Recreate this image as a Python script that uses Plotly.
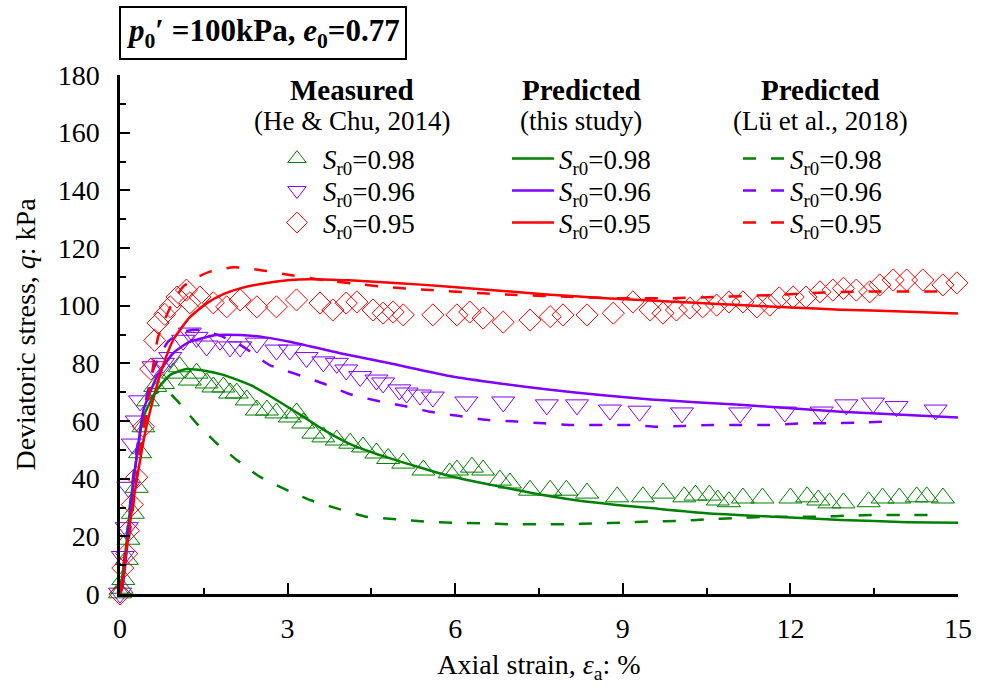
import plotly.graph_objects as go

# ---------------- data ----------------
# Measured (He & Chu, 2014)
meas98_x = [0.0, 0.03, 0.06, 0.12, 0.15, 0.23, 0.30, 0.36, 0.42, 0.50, 0.63, 0.77, 0.95, 1.07, 1.25, 1.37,
            1.55, 1.67, 1.85, 1.97, 2.09, 2.27, 2.45, 2.63, 2.80, 3.04, 3.16, 3.28, 3.46, 3.64, 3.88, 4.12,
            4.35, 4.59, 4.80, 5.07, 5.43, 5.90, 6.03, 6.30, 6.50, 6.80, 6.98, 7.34, 7.70, 7.99, 8.36, 8.90,
            9.36, 9.72, 10.1, 10.3, 10.55, 10.7, 10.9, 11.15, 11.5, 12.0, 12.3, 12.5, 12.7, 12.95, 13.4,
            13.65, 13.95, 14.26, 14.44, 14.73, 15.03]
meas98_y = [0.4, 2.0, 5.0, 12.0, 19.0, 28.0, 37.0, 49.0, 58.0, 67.0, 72.0, 73.0, 76.6, 78.8, 74.2, 76.6,
            73.2, 71.8, 71.8, 69.7, 69.7, 67.3, 63.8, 63.8, 62.8, 61.4, 62.8, 59.3, 55.8, 54.5, 53.4, 52.3,
            51.0, 48.9, 47.0, 45.4, 43.0, 42.0, 43.0, 44.0, 43.0, 39.5, 38.5, 36.0, 36.0, 36.0, 35.0, 33.7,
            33.7, 35.0, 33.7, 34.3, 34.3, 32.6, 32.0, 33.3, 33.3, 33.3, 33.7, 32.6, 31.6, 31.6, 32.0,
            33.3, 33.3, 33.7, 33.7, 33.3, 33.3]

meas96_x = [0.0, 0.05, 0.12, 0.15, 0.23, 0.30, 0.36, 0.60, 0.77, 0.90, 1.13, 1.25, 1.37, 1.55, 1.79, 1.97,
            2.15, 2.45, 2.80, 3.04, 3.34, 3.64, 3.88, 4.05, 4.30, 4.59, 4.71, 5.00, 5.13, 5.37, 5.60, 6.20,
            6.86, 7.64, 8.18, 8.77, 9.30, 10.06, 11.1, 11.9, 12.56, 13.0, 13.48, 13.9, 14.6, 15.3]
meas96_y = [0.3, 13.0, 23.0, 37.0, 52.0, 60.0, 67.0, 78.8, 80.0, 82.0, 88.0, 90.5, 89.0, 86.0, 88.0, 85.7,
            85.7, 87.0, 84.6, 84.6, 82.0, 80.5, 80.0, 77.7, 75.4, 74.2, 73.2, 70.8, 69.7, 69.0, 68.3, 66.6,
            66.6, 65.6, 65.6, 63.8, 63.4, 62.8, 62.8, 63.1, 63.1, 65.6, 66.2, 65.0, 63.8, 65.6]

meas95_x = [0.0, 0.05, 0.12, 0.15, 0.22, 0.30, 0.42, 0.55, 0.62, 0.68, 0.80, 0.90, 1.02, 1.19, 1.25, 1.43,
            1.67, 1.91, 2.15, 2.45, 2.80, 3.16, 3.58, 3.81, 4.05, 4.24, 4.53, 4.71, 4.89, 5.07, 5.60, 6.03,
            6.26, 6.50, 6.86, 7.34, 7.70, 7.93, 8.36, 8.83, 9.18, 9.49, 9.72, 9.96, 10.2, 10.43, 10.68,
            10.9, 11.15, 11.4, 11.63, 11.8, 12.05, 12.28, 12.53, 12.76, 12.95, 13.18, 13.42, 13.6, 13.84,
            14.08, 14.37, 14.73, 14.98, 15.27]
meas95_y = [0.0, 9.0, 14.0, 22.0, 31.0, 40.5, 58.0, 78.0, 88.0, 94.0, 97.0, 99.6, 103.0, 105.4, 101.0, 103.0,
            101.0, 99.6, 102.0, 99.6, 99.6, 102.0, 100.9, 98.5, 100.9, 101.3, 98.5, 97.4, 97.8, 96.8, 96.8, 96.8,
            97.8, 95.7, 94.3, 95.0, 96.2, 96.8, 96.8, 97.4, 101.3, 98.5, 97.4, 98.5, 99.2, 99.6, 100.2,
            101.3, 101.3, 99.6, 100.2, 102.7, 103.0, 103.0, 104.8, 105.4, 106.0, 105.4, 104.8, 107.2, 108.9,
            108.9, 108.9, 107.2, 107.9, 108.9]

# Predicted (this study)
pred98_x = [0, 0.1, 0.2, 0.3, 0.42, 0.66, 0.9, 1.19, 1.49, 1.85, 2.33, 2.8, 3.28, 3.64, 4.12, 4.71, 5.31,
            5.9, 6.5, 7.1, 7.7, 8.29, 8.89, 9.49, 10.5, 11.7, 12.9, 14.1, 15.0]
pred98_y = [0, 15, 33, 48, 61.5, 70.8, 76, 78.0, 77.5, 76, 72.5, 67.3, 61.5, 57, 52.0, 47.8, 44.2,
            40.9, 38.4, 36.1, 33.9, 32.2, 30.9, 29.8, 28, 26.8, 25.7, 24.9, 24.7]

pred96_x = [0, 0.05, 0.15, 0.23, 0.33, 0.42, 0.66, 0.95, 1.25, 1.73, 2.15, 2.6, 3.04, 3.94, 4.83, 5.9,
            6.8, 7.7, 8.6, 9.5, 10.3, 11.1, 12.0, 12.9, 14.0, 15.0]
pred96_y = [0, 3, 21, 37, 52, 63.8, 75.4, 83.5, 87.5, 89.8, 89.8, 89, 87.5, 83.5, 80.0, 75.6,
            73, 70.8, 69, 67.5, 66.5, 65.6, 64.4, 63.2, 62.2, 61.2]

pred95_x = [0, 0.03, 0.15, 0.30, 0.45, 0.60, 0.75, 0.95, 1.25, 1.55, 1.85, 2.15, 2.6, 3.0, 3.4, 4.1, 5.0,
            5.9, 6.8, 7.7, 8.6, 9.5, 10.3, 11.1, 12.0, 12.9, 14.0, 15.0]
pred95_y = [0, 1.5, 21, 39.5, 56, 68, 78, 88, 96, 100.8, 104, 106, 107.8, 108.8, 109.2, 108.8, 107.8,
            106.6, 105.2, 103.8, 102.7, 101.8, 101.0, 100.2, 99.4, 98.6, 98.0, 97.3]

# Predicted (Lü et al., 2018)
lu98_x = [0, 0.1, 0.2, 0.3, 0.45, 0.6, 0.8, 1.01, 1.37, 1.73, 2.09, 2.5, 2.98, 3.4, 3.88, 4.41, 4.95,
          5.49, 5.97, 6.5, 7.0, 7.5, 8.0, 8.5, 9.0, 9.5, 10.0, 10.5, 11.0, 11.6, 12.5, 13.1, 13.5, 14.1, 14.7]
lu98_y = [0, 16, 35, 50, 62, 69, 71, 67.3, 59.2, 52.3, 46.5, 40.7, 36.1, 32.6, 29.7, 26.8, 25.9,
          25.1, 24.7, 24.5, 24.2, 24.2, 24.2, 24.5, 24.7, 25.2, 25.3, 25.9, 26.3, 26.8, 26.8, 27.2, 27.4, 27.4, 27.4]

lu96_x = [0, 0.1, 0.2, 0.3, 0.45, 0.6, 0.86, 1.13, 1.43, 1.8, 2.2, 2.68, 3.1, 3.64, 4.12, 4.6, 5.13, 5.55,
          6.08, 6.56, 7.1, 7.58, 8.11, 8.65, 9.13, 9.6, 10.1, 10.6, 11.1, 11.6, 12.2, 12.65, 13.2, 13.7]
lu96_y = [0, 15, 33, 50, 66, 78, 87.5, 91, 91.6, 89.5, 85.8, 79.4, 76.6, 73, 69.3, 67, 65, 63.2,
          61.7, 60.4, 59.8, 59.2, 58.6, 58.6, 58.6, 58.0, 58.3, 58.6, 58.6, 58.6, 59.2, 59.2, 59.4, 59.8]

lu95_x = [0, 0.06, 0.18, 0.30, 0.36, 0.45, 0.54, 0.6, 0.68, 0.89, 1.13, 1.4, 1.61, 2.03, 2.5, 3.04, 3.64,
          4.2, 4.71, 5.55, 6.5, 7.1, 8.0, 8.9, 9.9, 10.8, 11.7, 12.3, 13.2, 14.1, 14.8]
lu95_y = [0, 9, 22, 40.7, 50, 60, 72, 80, 89, 99, 106.6, 110, 111.8, 113.3, 112.4, 110.6, 108.9,
          107.6, 106.6, 105.4, 104.3, 103.7, 103.1, 102.6, 102.6, 103.1, 103.7, 104.3, 104.9, 104.9, 104.9]

series_labels = ["0.98", "0.96", "0.95"]
x_ticks = [0, 3, 6, 9, 12, 15]
y_ticks = [0, 20, 40, 60, 80, 100, 120, 140, 160, 180]

# ---------------- styling ----------------
FONT = "Liberation Serif"
GREEN, PURPLE, RED = "#008000", "#8000ff", "#ff0000"
W, H = 986, 695
L, R, T, B = 120, 28, 75, 101
PW, PH = W - L - R, H - T - B


def pxx(v):
    return (v - L) / PW


def pxy(v):
    return (H - B - v) / PH


def lab(s):
    return "<i>S</i><sub>r0</sub>=" + s


fig = go.Figure()

meas = [(meas98_x, meas98_y, GREEN, "triangle-up-open", 20),
        (meas96_x, meas96_y, PURPLE, "triangle-down-open", 20),
        (meas95_x, meas95_y, RED, "diamond-open", 17)]
for i, (xs, ys, c, sym, sz) in enumerate(meas):
    fig.add_trace(go.Scatter(x=xs, y=ys, mode="markers", name=lab(series_labels[i]), showlegend=True,
                             marker=dict(symbol=sym, size=sz, color=c, line=dict(color=c, width=1)),
                             cliponaxis=False, legend="legend" if i == 0 else "legend%d" % (i + 1)))

preds = [(pred98_x, pred98_y, GREEN), (pred96_x, pred96_y, PURPLE), (pred95_x, pred95_y, RED)]
for i, (xs, ys, c) in enumerate(preds):
    fig.add_trace(go.Scatter(x=xs, y=ys, mode="lines", name=lab(series_labels[i]), showlegend=True,
                             line=dict(color=c, width=2.5, shape="spline", smoothing=0.5),
                             cliponaxis=False, legend="legend%d" % (i + 4)))

lus = [(lu98_x, lu98_y, GREEN), (lu96_x, lu96_y, PURPLE), (lu95_x, lu95_y, RED)]
for i, (xs, ys, c) in enumerate(lus):
    fig.add_trace(go.Scatter(x=xs, y=ys, mode="lines", name=lab(series_labels[i]), showlegend=True,
                             line=dict(color=c, width=2.5, dash="13px,15px", shape="spline", smoothing=0.5),
                             cliponaxis=False, legend="legend%d" % (i + 7)))

# legends: one per entry, arranged in three columns
col_left = [271, 507, 738]
row_y = [159, 191, 223]
legends = {}
k = 0
for c in range(3):
    for r in range(3):
        k += 1
        key = "legend" if k == 1 else "legend%d" % k
        legends[key] = dict(x=pxx(col_left[c]), y=pxy(row_y[r]), xanchor="left", yanchor="middle",
                            bgcolor="rgba(0,0,0,0)", borderwidth=0, itemwidth=42,
                            font=dict(family=FONT, size=27, color="black"))

annotations = [
    dict(text="<b><i>p</i><sub>0</sub>′ =100kPa, <i>e</i><sub>0</sub>=0.77</b>",
         x=pxx(119), y=pxy(33), xref="paper", yref="paper", xanchor="left", yanchor="middle",
         showarrow=False, font=dict(family=FONT, size=31, color="black"),
         bordercolor="black", borderwidth=2, borderpad=5, bgcolor="white"),
]
headers = [(352, "Measured", "(He & Chu, 2014)"), (581, "Predicted", "(this study)"),
           (820, "Predicted", "(Lü et al., 2018)")]
for xc, t1, t2 in headers:
    annotations.append(dict(text="<b>" + t1 + "</b>", x=pxx(xc), y=pxy(90), xref="paper", yref="paper",
                            xanchor="center", yanchor="middle", showarrow=False,
                            font=dict(family=FONT, size=29, color="black")))
    annotations.append(dict(text=t2, x=pxx(xc), y=pxy(121), xref="paper", yref="paper",
                            xanchor="center", yanchor="middle", showarrow=False,
                            font=dict(family=FONT, size=27, color="black")))

fig.update_layout(
    width=W, height=H, margin=dict(l=L, r=R, t=T, b=B, autoexpand=False),
    paper_bgcolor="white", plot_bgcolor="white", showlegend=True,
    font=dict(family=FONT, size=27, color="black"),
    annotations=annotations,
    **legends,
    xaxis=dict(range=[0, 15], tickvals=x_ticks, ticks="inside", ticklen=11, tickwidth=2,
               tickcolor="black", showline=True, linecolor="black", linewidth=2.5,
               showgrid=False, zeroline=False, ticklabelstandoff=8,
               minor=dict(ticks="inside", ticklen=6, tickwidth=2, tickcolor="black", dtick=1.5, tick0=0),
               tickfont=dict(family=FONT, size=28, color="black"),
               title=dict(text="Axial strain, <i>ε</i><sub>a</sub>: %", standoff=12,
                          font=dict(family=FONT, size=28, color="black"))),
    yaxis=dict(range=[0, 180], tickvals=y_ticks, ticks="inside", ticklen=10, tickwidth=2,
               tickcolor="black", showline=True, linecolor="black", linewidth=2.5,
               showgrid=False, zeroline=False, ticklabelstandoff=12,
               minor=dict(ticks="inside", ticklen=6, tickwidth=2, tickcolor="black", dtick=10, tick0=0),
               tickfont=dict(family=FONT, size=28, color="black"),
               title=dict(text="Deviatoric stress, <i>q</i>: kPa", standoff=14,
                          font=dict(family=FONT, size=28, color="black"))),
)

fig.write_html("out.html")
